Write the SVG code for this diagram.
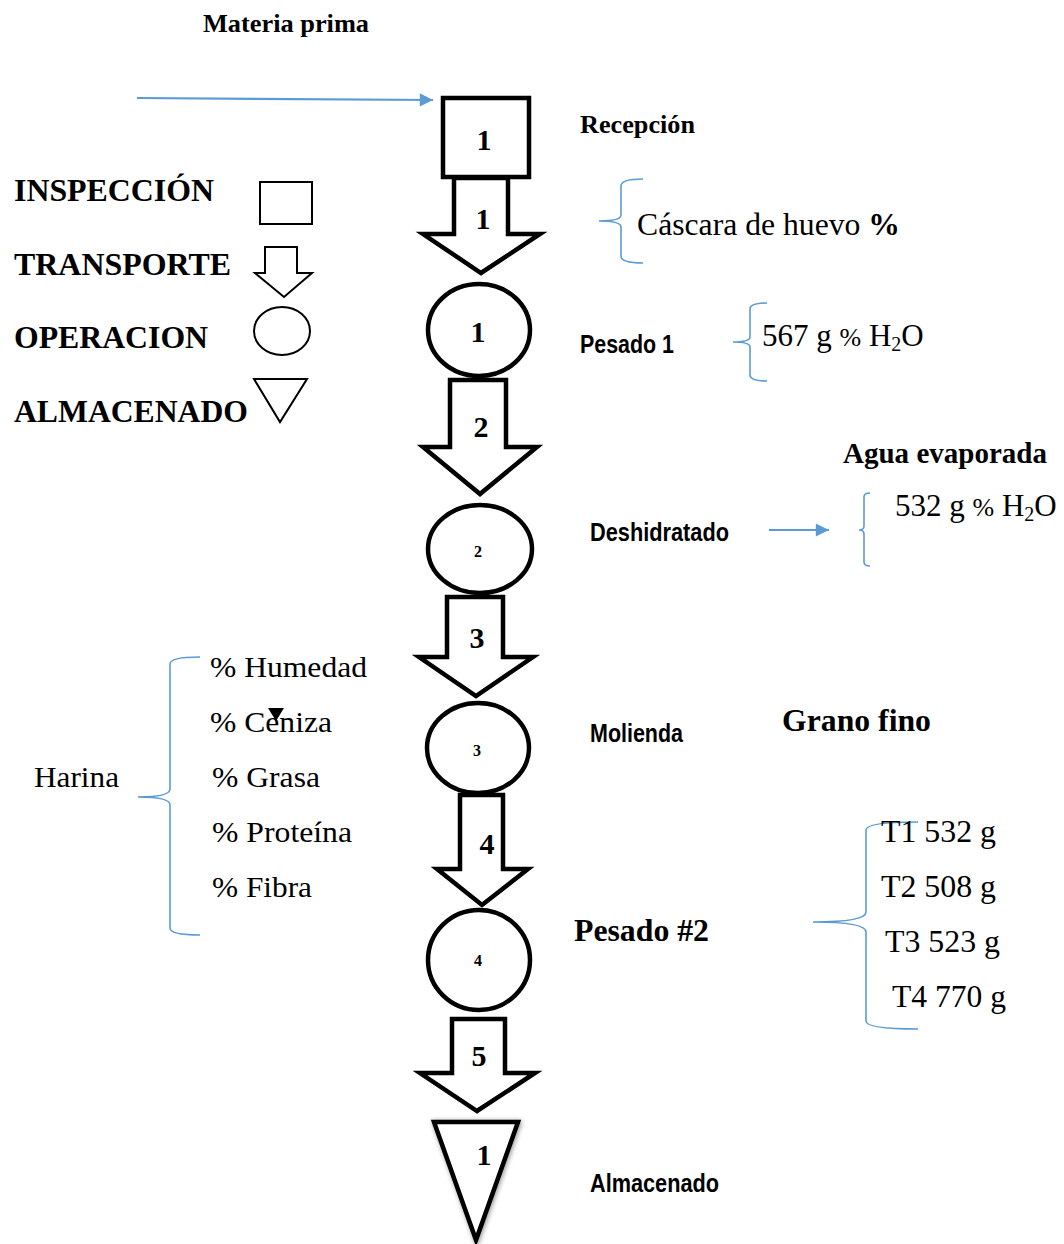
<svg xmlns="http://www.w3.org/2000/svg" width="1064" height="1244" viewBox="0 0 1064 1244">
  <defs>
    <marker id="blueHead" viewBox="0 0 10 10" refX="10" refY="5" markerWidth="7" markerHeight="6" orient="auto" markerUnits="strokeWidth">
      <path d="M0,0 L10,5 L0,10 Z" fill="#5b9bd5"/>
    </marker>
    <filter id="softShadow" x="-30%" y="-10%" width="160%" height="130%">
      <feGaussianBlur in="SourceAlpha" stdDeviation="2.5"/>
      <feOffset dx="1" dy="1" result="blur"/>
      <feComponentTransfer><feFuncA type="linear" slope="0.45"/></feComponentTransfer>
      <feMerge><feMergeNode/><feMergeNode in="SourceGraphic"/></feMerge>
    </filter>
  </defs>
  <style>
    .shape { fill: #fff; stroke: #000; stroke-width: 4.5; stroke-linejoin: miter; }
    .legend { fill: #fff; stroke: #000; stroke-width: 2; }
    .brace { fill: none; stroke: #5b9bd5; stroke-width: 1.6; }
    .flow { fill: none; stroke: #5b9bd5; stroke-width: 2.2; }
    .serif { font-family: "Liberation Serif", "Times New Roman", serif; fill: #000; }
    .bold { font-weight: bold; }
    .cond { font-family: "Liberation Sans Narrow", "Liberation Sans", Arial, sans-serif; font-weight: bold; font-size: 25px; fill: #000; }
    .num { font-family: "Liberation Serif", "Times New Roman", serif; font-weight: bold; font-size: 30px; text-anchor: middle; fill: #000; }
    .numSmall { font-family: "Liberation Serif", "Times New Roman", serif; font-weight: bold; font-size: 16px; text-anchor: middle; fill: #000; }
  </style>

  <!-- Title -->
  <text class="serif bold" x="203" y="32" font-size="25" textLength="166" lengthAdjust="spacingAndGlyphs">Materia prima</text>

  <!-- Legend -->
  <g id="legend">
    <text class="serif bold" x="14" y="201" font-size="31" textLength="200" lengthAdjust="spacingAndGlyphs">INSPECCIÓN</text>
    <rect class="legend" x="260" y="182" width="52" height="42"/>
    <text class="serif bold" x="14" y="275" font-size="31" textLength="217" lengthAdjust="spacingAndGlyphs">TRANSPORTE</text>
    <polygon class="legend" points="265,247 297,247 297,273 312,273 284,297 255,273 265,273"/>
    <text class="serif bold" x="14" y="348" font-size="31" textLength="194" lengthAdjust="spacingAndGlyphs">OPERACION</text>
    <ellipse class="legend" cx="282" cy="331" rx="28" ry="24"/>
    <text class="serif bold" x="14" y="422" font-size="31" textLength="234" lengthAdjust="spacingAndGlyphs">ALMACENADO</text>
    <polygon class="legend" points="254,379 307,379 280,422"/>
  </g>

  <!-- Connectors: transport arrows and blue flow arrows -->
  <g id="connectors">
    <line class="flow" x1="137" y1="98" x2="433" y2="100" marker-end="url(#blueHead)"/>
    <line class="flow" x1="769" y1="530" x2="829" y2="530" marker-end="url(#blueHead)"/>
    <g id="transport-1">
      <polygon class="shape" points="454,178 508,178 508,234 540,234 481,273 423,234 454,234"/>
      <text class="num" x="483" y="229">1</text>
    </g>
    <g id="transport-2">
      <polygon class="shape" points="450,380 506,380 506,447 537,447 480,494 423,447 450,447"/>
      <text class="num" x="481" y="437">2</text>
    </g>
    <g id="transport-3">
      <polygon class="shape" points="447,597 503,597 503,657 533,657 476,696 419,657 447,657"/>
      <text class="num" x="477" y="648">3</text>
    </g>
    <g id="transport-4">
      <polygon class="shape" points="460,795 503,795 503,869 528,869 482,905 437,869 460,869"/>
      <text class="num" x="487" y="854">4</text>
    </g>
    <g id="transport-5">
      <polygon class="shape" points="452,1019 505,1019 505,1073 535,1073 477,1111 420,1073 452,1073"/>
      <text class="num" x="479" y="1066">5</text>
    </g>
  </g>

  <!-- Process nodes -->
  <g id="inspeccion-1">
    <rect class="shape" x="443" y="98" width="86" height="79"/>
    <text class="num" x="484" y="150">1</text>
  </g>
  <g id="operacion-1">
    <ellipse class="shape" cx="479" cy="330" rx="51" ry="46"/>
    <text class="num" x="478" y="342">1</text>
  </g>
  <g id="operacion-2">
    <ellipse class="shape" cx="480" cy="549" rx="52" ry="44"/>
    <text class="numSmall" x="478" y="557">2</text>
  </g>
  <g id="operacion-3">
    <ellipse class="shape" cx="478" cy="748" rx="51" ry="45"/>
    <text class="numSmall" x="477" y="756">3</text>
  </g>
  <g id="operacion-4">
    <ellipse class="shape" cx="479" cy="960" rx="51" ry="50"/>
    <text class="numSmall" x="478" y="966">4</text>
  </g>
  <g id="almacenado-1">
    <polygon class="shape" points="434,1122 518,1122 476,1240" filter="url(#softShadow)"/>
    <text class="num" x="484" y="1165">1</text>
  </g>

  <!-- Step labels -->
  <g id="labels">
    <text class="serif bold" x="580" y="133" font-size="25" textLength="115" lengthAdjust="spacingAndGlyphs">Recepción</text>
    <text class="cond" x="580" y="353" textLength="94" lengthAdjust="spacingAndGlyphs">Pesado 1</text>
    <text class="cond" x="590" y="541" textLength="139" lengthAdjust="spacingAndGlyphs">Deshidratado</text>
    <text class="cond" x="590" y="742" textLength="93" lengthAdjust="spacingAndGlyphs">Molienda</text>
    <text class="serif bold" x="574" y="941" font-size="31" textLength="135" lengthAdjust="spacingAndGlyphs">Pesado #2</text>
    <text class="cond" x="590" y="1192" textLength="129" lengthAdjust="spacingAndGlyphs">Almacenado</text>
  </g>

  <!-- Cáscara de huevo -->
  <g id="cascara">
    <path class="brace" d="M643,179 Q621,179 621,186 L621,215 Q621,221 599,221 Q621,221 621,227 L621,256 Q621,263 643,263"/>
    <text class="serif" x="637" y="235" font-size="31" textLength="263" lengthAdjust="spacingAndGlyphs">Cáscara de huevo <tspan class="bold">%</tspan></text>
  </g>

  <!-- Pesado 1 data -->
  <g id="pesado1-datos">
    <path class="brace" d="M767,303 Q750,303 750,309 L750,337 Q750,342 733,342 Q750,342 750,347 L750,375 Q750,381 767,381"/>
    <text class="serif" x="762" y="346" font-size="31">567 g <tspan font-size="26">%</tspan> H<tspan font-size="20" dy="5">2</tspan><tspan dy="-5">O</tspan></text>
  </g>

  <!-- Agua evaporada -->
  <g id="agua-evaporada">
    <text class="serif bold" x="843" y="463" font-size="29" textLength="204" lengthAdjust="spacingAndGlyphs">Agua evaporada</text>
    <path class="brace" d="M870,493 Q864,493 864,497 L864,526 Q864,530 859,530 Q864,530 864,534 L864,562 Q864,566 870,566"/>
    <text class="serif" x="895" y="516" font-size="31">532 g <tspan font-size="26">%</tspan> H<tspan font-size="20" dy="5">2</tspan><tspan dy="-5">O</tspan></text>
  </g>

  <!-- Grano fino -->
  <text class="serif bold" x="782" y="731" font-size="31" textLength="149" lengthAdjust="spacingAndGlyphs">Grano fino</text>

  <!-- Harina analysis -->
  <g id="harina">
    <text class="serif" x="34" y="787" font-size="30" textLength="85" lengthAdjust="spacingAndGlyphs">Harina</text>
    <path class="brace" d="M200,657 Q170,657 170,664 L170,789 Q170,797 138,797 Q170,797 170,805 L170,928 Q170,935 200,935"/>
    <text class="serif" x="210" y="677" font-size="30" textLength="157" lengthAdjust="spacingAndGlyphs">% Humedad</text>
    <text class="serif" x="210" y="732" font-size="30" textLength="122" lengthAdjust="spacingAndGlyphs">% Ceniza</text>
    <polygon points="268,708 284,708 276,721" fill="#000"/>
    <text class="serif" x="212" y="787" font-size="30" textLength="108" lengthAdjust="spacingAndGlyphs">% Grasa</text>
    <text class="serif" x="212" y="842" font-size="30" textLength="140" lengthAdjust="spacingAndGlyphs">% Proteína</text>
    <text class="serif" x="212" y="897" font-size="30" textLength="100" lengthAdjust="spacingAndGlyphs">% Fibra</text>
  </g>

  <!-- Pesado #2 treatments -->
  <g id="tratamientos">
    <path class="brace" d="M918,822 Q866,822 866,830 L866,912 Q866,922 813,922 Q866,922 866,932 L866,1021 Q866,1029 918,1029"/>
    <text class="serif" x="881" y="842" font-size="31" textLength="115" lengthAdjust="spacingAndGlyphs">T1 532 g</text>
    <text class="serif" x="881" y="897" font-size="31" textLength="115" lengthAdjust="spacingAndGlyphs">T2 508 g</text>
    <text class="serif" x="885" y="952" font-size="31" textLength="115" lengthAdjust="spacingAndGlyphs">T3 523 g</text>
    <text class="serif" x="892" y="1007" font-size="31" textLength="114" lengthAdjust="spacingAndGlyphs">T4 770 g</text>
  </g>
</svg>
